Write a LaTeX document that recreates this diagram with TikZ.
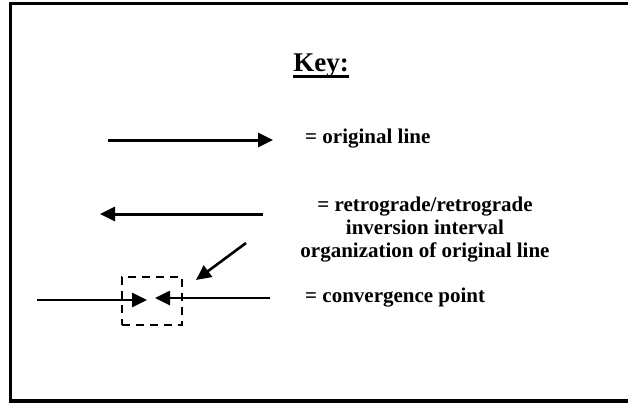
\documentclass[tikz,border=0pt]{standalone}
\usepackage{fontspec}
\setmainfont{Liberation Serif}
\usetikzlibrary{arrows.meta}
\begin{document}
\begin{tikzpicture}[x=1pt,y=-1pt,
  keyline/.style={line width=3pt,-{Triangle[length=15pt,width=14pt]}},
  keytext/.style={font=\bfseries\fontsize{21}{23}\selectfont,inner sep=0pt}]
\useasboundingbox (0,0) rectangle (628,404);
% frame
\draw [line width=3.5pt] (628,3.5) -- (10.5,3.5) -- (10.5,401) -- (628,401);
\node[inner sep=0pt,font=\bfseries\fontsize{27}{30}\selectfont] (key) at (321,66) {Key:};
\draw [line width=2.2pt] ([yshift=-4.5pt]key.base west) -- ([yshift=-4.5pt]key.base east);
% original line
\coordinate (o1) at (108,140);
\coordinate (o2) at (273,140);
\node[keytext,anchor=west] (orig) at (305,139) {= original line};
\draw [keyline] (o1) -- (o2);
% retrograde
\coordinate (r1) at (263,214);
\coordinate (r2) at (100,214);
\node[keytext,align=center] (retro) at (425,230) {= retrograde/retrograde\\inversion interval\\organization of original line};
\draw [keyline] (r1) -- (r2);
% convergence
\node[draw,line width=2.8pt,dash pattern=on 8pt off 6pt,minimum width=60pt,minimum height=48pt] (box) at (152,301) {};
\coordinate (c1) at (37,300);
\coordinate (c2) at (147,300);
\coordinate (c3) at (270,298);
\coordinate (c4) at (155,298);
\coordinate (d1) at (246,243);
\coordinate (d2) at (196,280);
\draw [keyline,line width=2.6pt] (c1) -- (c2);
\draw [keyline,line width=2.6pt] (c3) -- (c4);
\draw [keyline,line width=2.6pt] (d1) -- (d2);
\node[keytext,anchor=west] (conv) at (305,298) {= convergence point};
\end{tikzpicture}
\end{document}
